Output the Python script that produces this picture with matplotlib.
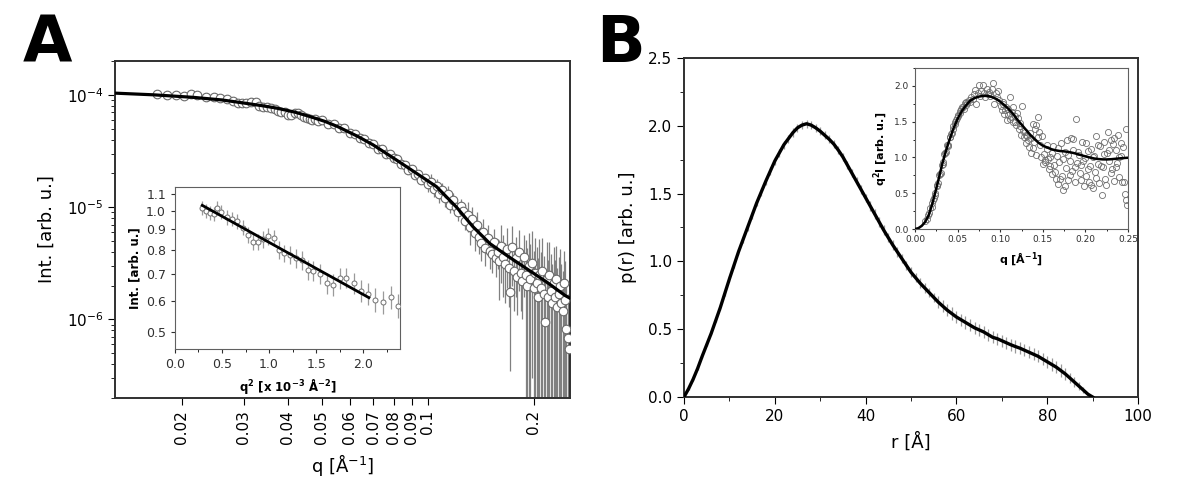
import numpy as np
import matplotlib
matplotlib.use('Agg')
import matplotlib.pyplot as plt
from matplotlib.ticker import FixedLocator, FixedFormatter, NullLocator, NullFormatter, LogLocator, MultipleLocator, FormatStrFormatter

plt.rcParams['font.family'] = ['DejaVu Sans']
plt.rcParams['mathtext.default'] = 'regular'

# ---- panel A: Guinier inset (q^2 in 1e-3 A^-2, normalised intensity)
guin_q2 = [0.29, 0.33, 0.37, 0.41, 0.45, 0.49, 0.55, 0.61, 0.66, 0.72, 0.78, 0.83,
           0.88, 0.93, 0.99, 1.05, 1.10, 1.16, 1.22, 1.29, 1.35, 1.41, 1.47, 1.54,
           1.61, 1.68, 1.75, 1.82, 1.90, 1.98, 2.05, 2.13, 2.21, 2.29, 2.37]
guin_I = [1.017, 1.000, 0.990, 0.985, 1.017, 0.994, 0.966, 0.957, 0.944, 0.910, 0.872, 0.839,
          0.839, 0.852, 0.866, 0.859, 0.801, 0.786, 0.780, 0.764, 0.755, 0.715, 0.710, 0.698,
          0.664, 0.657, 0.682, 0.683, 0.662, 0.634, 0.624, 0.603, 0.595, 0.613, 0.582]
guin_err = 0.04
guin_fit_q2 = [0.29, 2.06]
guin_fit_I = [1.033, 0.61]

# ---- panel A: scattering curve, q > 0.05 (intensity in 1e-6)
sc_q = [0.050, 0.052, 0.054, 0.056, 0.058, 0.060, 0.062, 0.064, 0.066, 0.068, 0.070,
        0.072, 0.074, 0.076, 0.078, 0.080, 0.082, 0.084, 0.086, 0.088, 0.090, 0.092,
        0.094, 0.096, 0.098, 0.100, 0.102, 0.104, 0.106, 0.108, 0.110, 0.112, 0.114,
        0.116, 0.118, 0.120, 0.122, 0.124, 0.126, 0.128, 0.130, 0.132, 0.134, 0.136,
        0.138, 0.140, 0.142, 0.144, 0.146, 0.148, 0.150, 0.152, 0.154, 0.156, 0.158,
        0.160, 0.162, 0.164, 0.166, 0.168, 0.170, 0.172, 0.174, 0.176, 0.178, 0.180,
        0.182, 0.184, 0.186, 0.188, 0.190, 0.192, 0.194, 0.196, 0.198, 0.200, 0.202,
        0.204, 0.206, 0.208, 0.210, 0.212, 0.214, 0.216, 0.218, 0.220, 0.222, 0.224,
        0.226, 0.228, 0.230, 0.232, 0.234, 0.236, 0.238, 0.240, 0.242, 0.244, 0.246,
        0.248, 0.250, 0.252]
sc_I = [60, 55.5, 54.5, 51, 50.5, 45.5, 44.8, 41.2, 40.8, 37, 36.5,
        33.2, 32.8, 30, 29.6, 27.2, 27, 24.2, 23.9, 21.6, 21.8, 19.3,
        19.8, 17.6, 18.3, 16.2, 16.9, 14.6, 15.4, 13.0, 14.1, 12.0, 13.2,
        10.5, 11.6, 10.0, 9.0, 10.3, 9.2, 7.6, 8.6, 6.6, 7.8, 5.9,
        7.0, 5.4, 4.8, 6.0, 4.3, 5.3, 4.1, 3.8, 4.9, 3.5, 4.0,
        3.3, 4.5, 3.6, 3.1, 4.2, 2.9, 1.75, 4.4, 2.7, 3.5, 2.4,
        4.0, 2.6, 2.2, 3.6, 2.5, 2.0, 3.0, 2.3, 3.2, 1.9, 2.6,
        2.1, 1.6, 2.5, 1.9, 2.7, 1.7, 0.95, 2.3, 1.6, 2.5, 1.8,
        1.4, 2.1, 1.6, 2.3, 1.3, 1.7, 2.0, 1.4, 1.2, 2.1, 1.5,
        0.83, 0.68, 0.55]
sc_err = [3.0, 2.8, 2.7, 2.6, 2.5, 2.3, 2.2, 2.1, 2.0, 1.9, 1.8,
          2.7, 2.6, 2.4, 2.4, 2.2, 2.2, 1.9, 1.9, 1.7, 1.7, 1.5,
          1.6, 1.4, 1.5, 2.6, 2.7, 2.3, 2.5, 2.1, 2.3, 1.9, 2.1,
          1.7, 1.9, 1.6, 1.5, 1.6, 1.5, 1.3, 2.6, 2.0, 2.3, 1.8,
          2.1, 1.6, 1.5, 1.8, 1.3, 1.6, 1.3, 1.2, 1.5, 1.1, 1.2,
          1.8, 2.4, 2.0, 1.7, 2.3, 1.6, 1.4, 2.4, 1.5, 1.9, 1.3,
          2.2, 1.4, 1.2, 2.0, 2.6, 2.3, 2.9, 2.4, 2.9, 2.2, 2.7,
          2.3, 1.9, 2.7, 2.1, 2.6, 2.0, 1.4, 2.6, 1.8, 2.4, 2.0,
          1.7, 2.3, 1.8, 2.2, 1.6, 1.9, 2.2, 1.7, 1.5, 2.0, 1.8,
          1.2, 1.0, 0.9]

# fit curve of panel A (intensity in 1e-6)
fit_q = [0.0129, 0.0166, 0.0215, 0.026, 0.030, 0.034, 0.0372, 0.042, 0.0463, 0.051,
         0.0555, 0.0634, 0.070, 0.080, 0.0871, 0.096, 0.106, 0.1135, 0.1208, 0.1347,
         0.1425, 0.1503, 0.1676, 0.191, 0.2178, 0.2456, 0.2537]
fit_I = [103.5, 100, 95, 90, 84.5, 79.8, 76.1, 70, 64, 58,
         52.1, 42.5, 35.8, 27.3, 22.9, 18.7, 15.2, 12.2, 10.0, 6.67,
         5.6, 4.74, 3.73, 2.84, 2.16, 1.64, 1.55]

# ---- panel B: distance distribution, r = 0..90 A
pr_r = list(range(0, 91))
pr_p = [0, 0.06, 0.13, 0.21, 0.30, 0.385, 0.47, 0.565, 0.66, 0.765,
        0.87, 0.97, 1.07, 1.16, 1.25, 1.34, 1.43, 1.51, 1.59, 1.665,
        1.74, 1.80, 1.86, 1.905, 1.95, 1.985, 2.005, 2.015, 2.005, 1.985,
        1.96, 1.93, 1.90, 1.865, 1.82, 1.77, 1.71, 1.65, 1.59, 1.53,
        1.47, 1.41, 1.35, 1.29, 1.23, 1.175, 1.12, 1.07, 1.02, 0.97,
        0.92, 0.88, 0.84, 0.805, 0.77, 0.735, 0.70, 0.67, 0.64, 0.615,
        0.59, 0.57, 0.55, 0.53, 0.51, 0.495, 0.48, 0.46, 0.44, 0.43,
        0.415, 0.40, 0.385, 0.372, 0.36, 0.345, 0.33, 0.315, 0.30, 0.28,
        0.26, 0.24, 0.22, 0.195, 0.17, 0.14, 0.11, 0.08, 0.05, 0.02,
        0.0]
pr_err = [0.005, 0.008, 0.01, 0.01, 0.012, 0.012,
          0.015, 0.015, 0.018, 0.018, 0.02, 0.02, 0.022,
          0.022, 0.025, 0.025, 0.025, 0.028, 0.028, 0.03, 0.03,
          0.03, 0.03, 0.03, 0.03, 0.03, 0.03, 0.03, 0.03, 0.03, 0.03,
          0.03, 0.03, 0.03, 0.03, 0.03, 0.03, 0.03, 0.03, 0.03, 0.03,
          0.035, 0.035, 0.035, 0.035, 0.035, 0.035, 0.035, 0.035, 0.035, 0.035,
          0.035, 0.035, 0.035, 0.035, 0.035,
          0.045, 0.045, 0.045, 0.045, 0.045, 0.045, 0.045, 0.045, 0.045, 0.045,
          0.045, 0.045, 0.045, 0.045, 0.045, 0.045, 0.045, 0.045, 0.045, 0.045,
          0.045, 0.045, 0.045, 0.045, 0.045, 0.045, 0.045, 0.045, 0.045,
          0.04, 0.035, 0.03, 0.02, 0.01, 0.0]

# ---- panel B inset: Kratky plot
kr_q = [0.0120, 0.0135, 0.0150, 0.0165, 0.0180, 0.0195, 0.0210, 0.0225, 0.0240, 0.0255,
        0.0270, 0.0285, 0.0300, 0.0315, 0.0330, 0.0345, 0.0360, 0.0375, 0.0390, 0.0405,
        0.0420, 0.0435, 0.0450, 0.0465, 0.0480, 0.0495, 0.0510, 0.0525, 0.0540, 0.0555,
        0.0570, 0.0585, 0.0600,
        0.0203, 0.0233, 0.0263, 0.0293, 0.0323, 0.0353, 0.0383, 0.0413, 0.0443, 0.0473,
        0.0503, 0.0533, 0.0563, 0.0593,
        0.0615, 0.0630, 0.0645, 0.0660, 0.0675, 0.0690, 0.0705, 0.0720, 0.0735, 0.0750,
        0.0765, 0.0780, 0.0795, 0.0810, 0.0825, 0.0840, 0.0855, 0.0870, 0.0885, 0.0900,
        0.0915, 0.0930, 0.0945, 0.0960, 0.0975, 0.0990, 0.1005,
        0.1020, 0.1035, 0.1050, 0.1065, 0.1080, 0.1095, 0.1110, 0.1125, 0.1140, 0.1155,
        0.1170, 0.1185, 0.1200, 0.1215, 0.1230, 0.1245, 0.1260, 0.1275, 0.1290, 0.1305,
        0.1320, 0.1335, 0.1350, 0.1365, 0.1380, 0.1395, 0.1410, 0.1425, 0.1440, 0.1455,
        0.1470, 0.1485, 0.1500,
        0.1028, 0.1058, 0.1088, 0.1118, 0.1148, 0.1178, 0.1208, 0.1238, 0.1268, 0.1298,
        0.1328, 0.1358, 0.1388, 0.1418, 0.1448, 0.1478,
        0.1515, 0.1530, 0.1545, 0.1560, 0.1575, 0.1590, 0.1605, 0.1620, 0.1635, 0.1650,
        0.1665, 0.1680, 0.1695, 0.1710, 0.1725, 0.1740, 0.1755, 0.1770, 0.1785, 0.1800,
        0.1815, 0.1830, 0.1845, 0.1860, 0.1875, 0.1890, 0.1905, 0.1920, 0.1935, 0.1950,
        0.1965, 0.1980, 0.1995, 0.2010, 0.2025, 0.2040, 0.2055, 0.2070, 0.2085, 0.2100,
        0.2115, 0.2130, 0.2145, 0.2160, 0.2175, 0.2190, 0.2205, 0.2220, 0.2235, 0.2250,
        0.2265, 0.2280, 0.2295, 0.2310, 0.2325, 0.2340, 0.2355, 0.2370, 0.2385, 0.2400,
        0.2415, 0.2430, 0.2445, 0.2460, 0.2475, 0.2480, 0.2490,
        0.1523, 0.1553, 0.1583, 0.1613, 0.1643, 0.1673, 0.1703, 0.1733, 0.1763, 0.1793,
        0.1823, 0.1853, 0.1883, 0.1913, 0.1943, 0.1973, 0.2003, 0.2033, 0.2063, 0.2093,
        0.2123, 0.2153, 0.2183, 0.2213, 0.2243, 0.2273, 0.2303, 0.2333, 0.2363, 0.2393,
        0.2423, 0.2453]
kr_v = [0.11, 0.14, 0.20, 0.22, 0.29, 0.31, 0.40, 0.43, 0.50, 0.60,
        0.64, 0.75, 0.78, 0.90, 0.93, 1.05, 1.07, 1.18, 1.17, 1.29,
        1.33, 1.34, 1.44, 1.47, 1.52, 1.55, 1.60, 1.62, 1.67, 1.70,
        1.68, 1.76, 1.73,
        0.37, 0.47, 0.62, 0.77, 0.91, 1.06, 1.16, 1.28, 1.40, 1.50,
        1.58, 1.65, 1.71, 1.78,
        1.76, 1.80, 1.78, 1.84, 1.82, 1.88, 1.94, 1.74, 1.90, 2.01,
        1.86, 1.93, 2.01, 1.90, 1.84, 1.95, 1.88, 1.92, 1.86, 1.95,
        2.04, 1.74, 1.90, 1.84, 1.93, 1.80, 1.72,
        1.66, 1.78, 1.61, 1.70, 1.52, 1.68, 1.85, 1.56, 1.64, 1.50,
        1.58, 1.45, 1.62, 1.40, 1.44, 1.32, 1.72, 1.28, 1.36, 1.20,
        1.30, 1.14, 1.34, 1.06, 1.47, 1.22, 1.40, 1.45, 1.57, 1.36,
        1.17, 1.30, 0.91,
        1.74, 1.66, 1.60, 1.54, 1.71, 1.50, 1.55, 1.48, 1.37, 1.31,
        1.24, 1.27, 1.13, 1.04, 1.28, 1.00,
        1.05, 0.93, 1.12, 0.98, 0.84, 1.00, 0.77, 1.16, 0.90, 0.70,
        1.02, 0.63, 0.93, 1.20, 0.74, 0.54, 1.07, 0.85, 1.24, 0.69,
        0.95, 1.27, 0.81, 1.10, 0.66, 1.54, 0.92, 1.03, 0.78, 0.89,
        1.21, 0.60, 0.99, 0.74, 1.09, 0.65, 0.88, 1.12, 0.58, 1.02,
        0.80, 1.30, 0.91, 0.64, 1.16, 0.47, 0.86, 1.22, 0.70, 1.06,
        1.36, 0.95, 1.25, 0.84, 1.19, 0.67, 1.10, 0.92, 1.32, 0.73,
        1.02, 0.66, 1.14, 0.49, 1.40, 0.40, 0.34,
        0.97, 1.18, 0.88, 1.06, 0.79, 1.13, 0.70, 0.98, 0.60, 1.04,
        0.76, 1.26, 0.86, 1.07, 0.68, 0.95, 1.20, 0.84, 0.62, 1.00,
        0.71, 1.17, 0.88, 1.05, 0.62, 1.10, 0.78, 1.27, 0.86, 1.00,
        1.20, 0.66]

kfit_q = [0, 0.004, 0.008, 0.012, 0.016, 0.020, 0.024, 0.028, 0.032, 0.036, 0.040, 0.045,
          0.050, 0.055, 0.060, 0.065, 0.070, 0.075, 0.080, 0.085, 0.090, 0.095, 0.100,
          0.105, 0.110, 0.115, 0.120, 0.125, 0.130, 0.135, 0.140, 0.145, 0.150, 0.155,
          0.160, 0.165, 0.170, 0.175, 0.180, 0.185, 0.190, 0.195, 0.200, 0.205, 0.210,
          0.215, 0.220, 0.225, 0.230, 0.235, 0.240, 0.245, 0.250]
kfit_v = [0, 0.012, 0.045, 0.10, 0.19, 0.34, 0.52, 0.71, 0.91, 1.08, 1.23, 1.40,
          1.54, 1.65, 1.73, 1.795, 1.83, 1.85, 1.86, 1.86, 1.845, 1.82, 1.78,
          1.73, 1.675, 1.61, 1.53, 1.46, 1.39, 1.32, 1.26, 1.205, 1.165, 1.14,
          1.115, 1.10, 1.09, 1.085, 1.077, 1.065, 1.05, 1.032, 1.015, 1.0, 0.986,
          0.978, 0.973, 0.972, 0.975, 0.981, 0.987, 0.992, 0.996]

a_xticks = [0.02, 0.03, 0.04, 0.05, 0.06, 0.07, 0.08, 0.09, 0.1, 0.2]
a_xlabels = ['0.02', '0.03', '0.04', '0.05', '0.06', '0.07', '0.08', '0.09', '0.1', '0.2']

spine_col = '#303030'


def style_spines(ax, lw, col):
    for s in ax.spines.values():
        s.set_linewidth(lw)
        s.set_color(col)


fig = plt.figure(figsize=(12, 4.88), dpi=100)

# ================= Panel A =================
axA = fig.add_axes([0.0958, 0.1844, 0.3792, 0.6906])
axA.set_xscale('log')
axA.set_yscale('log')

# low-q part of the curve is the same data as the Guinier inset
low_q = np.sqrt(np.array(guin_q2) * 1e-3)
low_I = np.array(guin_I) * 1e-4
all_q = np.concatenate([low_q, sc_q])
all_I = np.concatenate([low_I, np.array(sc_I) * 1e-6])
all_e = np.concatenate([np.full(len(low_q), guin_err * 1e-4), np.array(sc_err) * 1e-6])

axA.errorbar(all_q, all_I, yerr=all_e, fmt='none', ecolor='#808080', elinewidth=0.9, zorder=2)
axA.plot(all_q, all_I, 'o', ms=6.2, mfc='white', mec='#6a6a6a', mew=0.8, zorder=3)
axA.plot(fit_q, np.array(fit_I) * 1e-6, color='black', lw=2.3, zorder=4)

axA.set_xlim(0.0129, 0.254)
axA.set_ylim(2e-7, 2e-4)
axA.xaxis.set_major_locator(FixedLocator(a_xticks))
axA.xaxis.set_major_formatter(FixedFormatter(a_xlabels))
axA.xaxis.set_minor_locator(NullLocator())
axA.yaxis.set_major_locator(LogLocator(base=10))
axA.yaxis.set_minor_locator(LogLocator(base=10, subs=np.arange(2, 10)))
axA.yaxis.set_minor_formatter(NullFormatter())
axA.tick_params(axis='x', which='major', labelsize=11, labelrotation=90, length=5, direction='out')
axA.tick_params(axis='y', which='major', labelsize=11, length=5, direction='out')
axA.tick_params(axis='y', which='minor', length=3, direction='out')
axA.tick_params(top=False, right=False)
axA.set_xlabel('q [Å$^{-1}$]', fontsize=13, labelpad=6)
axA.set_ylabel('Int. [arb. u.]', fontsize=13, labelpad=8)
style_spines(axA, 1.4, spine_col)

# inset A (Guinier)
axIA = fig.add_axes([0.1458, 0.2848, 0.1875, 0.332])
axIA.set_yscale('log')
axIA.errorbar(guin_q2, guin_I, yerr=guin_err, fmt='none', ecolor='#9a9a9a', elinewidth=0.9, zorder=2)
axIA.plot(guin_q2, guin_I, 'o', ms=3.6, mfc='white', mec='#707070', mew=0.7, zorder=3)
axIA.plot(guin_fit_q2, guin_fit_I, color='black', lw=2.0, zorder=4)
axIA.set_xlim(0, 2.39)
axIA.set_ylim(0.455, 1.147)
axIA.yaxis.set_major_locator(FixedLocator([0.5, 0.6, 0.7, 0.8, 0.9, 1.0, 1.1]))
axIA.yaxis.set_major_formatter(FormatStrFormatter('%.1f'))
axIA.yaxis.set_minor_locator(NullLocator())
axIA.yaxis.set_minor_formatter(NullFormatter())
axIA.xaxis.set_major_locator(MultipleLocator(0.5))
axIA.xaxis.set_minor_locator(MultipleLocator(0.25))
axIA.xaxis.set_major_formatter(FormatStrFormatter('%.1f'))
axIA.tick_params(which='major', labelsize=9, length=3, direction='out', colors='#303030')
axIA.tick_params(which='minor', length=2, direction='out')
axIA.set_xlabel(r'q$^{\mathbf{2}}$ [x 10$^{\mathbf{-3}}$ Å$^{\mathbf{-2}}$]', fontsize=8.5,
                fontweight='bold', labelpad=4)
axIA.set_ylabel('Int. [arb. u.]', fontsize=8.5, fontweight='bold', labelpad=3)
style_spines(axIA, 0.8, '#606060')

# ================= Panel B =================
axB = fig.add_axes([0.57, 0.1865, 0.3783, 0.6947])
axB.errorbar(pr_r, pr_p, yerr=pr_err, fmt='none', ecolor='#999999', elinewidth=0.9, zorder=2)
axB.plot(pr_r, pr_p, color='black', lw=2.4, zorder=3)
axB.set_xlim(0, 100)
axB.set_ylim(0, 2.5)
axB.xaxis.set_major_locator(MultipleLocator(20))
axB.xaxis.set_minor_locator(MultipleLocator(10))
axB.yaxis.set_major_locator(MultipleLocator(0.5))
axB.yaxis.set_minor_locator(MultipleLocator(0.25))
axB.yaxis.set_major_formatter(FormatStrFormatter('%.1f'))
axB.tick_params(which='major', labelsize=11, length=5, direction='out')
axB.tick_params(which='minor', length=3, direction='out')
axB.set_xlabel('r [Å]', fontsize=13, labelpad=6)
axB.set_ylabel('p(r) [arb. u.]', fontsize=13, labelpad=8)
style_spines(axB, 1.4, spine_col)

# inset B (Kratky)
axIB = fig.add_axes([0.7625, 0.5307, 0.1775, 0.33])
axIB.plot(kr_q, kr_v, 'o', ms=4.4, mfc='none', mec='#6f6f6f', mew=0.6, zorder=2)
axIB.plot(kfit_q, kfit_v, color='black', lw=1.8, zorder=3)
axIB.set_xlim(0, 0.25)
axIB.set_ylim(0, 2.25)
axIB.xaxis.set_major_locator(MultipleLocator(0.05))
axIB.xaxis.set_minor_locator(MultipleLocator(0.025))
axIB.xaxis.set_major_formatter(FormatStrFormatter('%.2f'))
axIB.yaxis.set_major_locator(MultipleLocator(0.5))
axIB.yaxis.set_minor_locator(MultipleLocator(0.25))
axIB.yaxis.set_major_formatter(FormatStrFormatter('%.1f'))
axIB.tick_params(which='major', labelsize=6.5, length=2.5, direction='out', pad=2, colors='#303030')
axIB.tick_params(which='minor', length=1.5, direction='out')
axIB.set_xlabel(r'q [Å$^{\mathbf{-1}}$]', fontsize=8, fontweight='bold', labelpad=4)
axIB.set_ylabel(r'q$^{\mathbf{2}}$I [arb. u.]', fontsize=8, fontweight='bold', labelpad=3)
style_spines(axIB, 0.8, '#606060')

# panel letters
fig.text(0.019, 0.872, 'A', fontsize=46, fontweight='heavy', color='black')
fig.text(0.497, 0.872, 'B', fontsize=46, fontweight='heavy', color='black')

fig.savefig('out.png', dpi=100)
